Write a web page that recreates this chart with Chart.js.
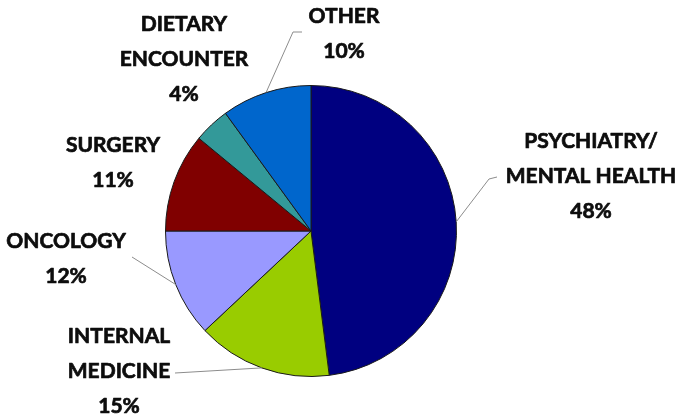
<!DOCTYPE html>
<html><head><meta charset="utf-8">
<script src="https://cdn.jsdelivr.net/npm/chart.js@4"></script>
<style>html,body{margin:0;padding:0;background:#fff}#wrap{width:684px;height:415px}</style>
</head><body><div id="wrap"><canvas id="c" width="684" height="415"></canvas></div>
<script>
const categories = ["PSYCHIATRY/ MENTAL HEALTH", "INTERNAL MEDICINE", "ONCOLOGY", "SURGERY", "DIETARY ENCOUNTER", "OTHER"];
const values = [48, 15, 12, 11, 4, 10];
const labelLines = [["PSYCHIATRY/", "MENTAL HEALTH", "48%"], ["INTERNAL", "MEDICINE", "15%"], ["ONCOLOGY", "12%"], ["SURGERY", "11%"], ["DIETARY", "ENCOUNTER", "4%"], ["OTHER", "10%"]];
const colors = ["#000080", "#99cc00", "#9999ff", "#800000", "#339999", "#0066cc"];

// label layout: centre x, first-line y, leader end points (null = no leader)
const layout = [
  {x: 591, y: 141, leader: [[489, 179], [497, 177]]},
  {x: 119, y: 336, leader: [[175, 373]]},
  {x: 66, y: 241, leader: [[132, 257]]},
  {x: 113, y: 145, leader: null},
  {x: 184, y: 24, leader: null},
  {x: 344, y: 16, leader: [[293, 32], [302, 32]]}
];
const lineGap = 35;

const labelPlugin = {
  id: 'outLabels',
  afterDraw(chart) {
    const ctx = chart.ctx;
    const meta = chart.getDatasetMeta(0);
    ctx.save();
    meta.data.forEach((arc, i) => {
      const L = layout[i];
      if (L.leader) {
        const mid = (arc.startAngle + arc.endAngle) / 2;
        const ax = arc.x + Math.cos(mid) * arc.outerRadius;
        const ay = arc.y + Math.sin(mid) * arc.outerRadius;
        ctx.strokeStyle = '#8c8c8c';
        ctx.lineWidth = 1;
        ctx.beginPath();
        ctx.moveTo(ax, ay);
        L.leader.forEach(p => ctx.lineTo(p[0], p[1]));
        ctx.stroke();
      }
      ctx.fillStyle = '#0d0d0d';
      ctx.strokeStyle = '#0d0d0d';
      ctx.lineWidth = 0.7;
      ctx.lineJoin = 'round';
      ctx.font = 'bold 21px Lato';
      ctx.textAlign = 'center';
      ctx.textBaseline = 'middle';
      labelLines[i].forEach((t, k) => {
        ctx.fillText(t, L.x, L.y + k * lineGap);
        ctx.strokeText(t, L.x, L.y + k * lineGap);
      });
    });
    ctx.restore();
  }
};

new Chart(document.getElementById('c'), {
  type: 'pie',
  data: {labels: categories, datasets: [{data: values, backgroundColor: colors, borderColor: '#1a1a1a', borderWidth: 1}]},
  options: {
    responsive: false,
    animation: false,
    layout: {padding: {left: 165, right: 227, top: 85, bottom: 38}},
    plugins: {legend: {display: false}, tooltip: {enabled: false}}
  },
  plugins: [labelPlugin]
});
</script>
</body></html>
